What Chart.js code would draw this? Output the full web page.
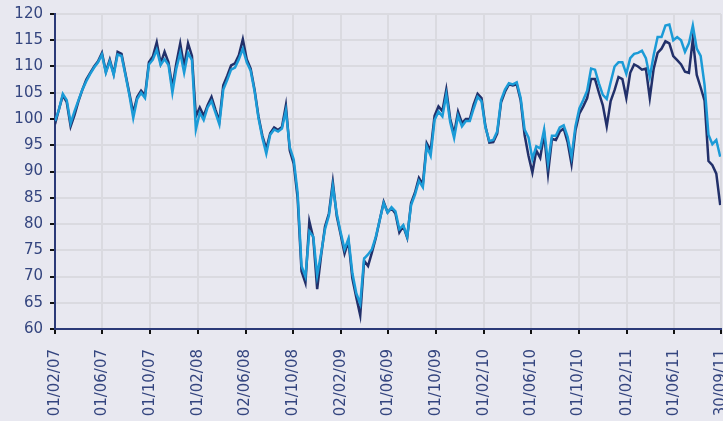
<!DOCTYPE html>
<html>
<head>
<meta charset="utf-8">
<script src="https://cdn.jsdelivr.net/npm/chart.js@4.4.0/dist/chart.umd.min.js"></script>
<style>
  html, body { margin: 0; padding: 0; background: #e8e8f0; overflow: hidden; }
  #wrap { width: 723px; height: 421px; }
</style>
</head>
<body>
<div id="wrap"><canvas id="indexChart"></canvas></div>
<script>
// one reading every 10 calendar days, starting 01/02/07
const stepDays = 10;

const navySeries = [
  99.0, 101.8, 104.5, 103.2, 98.6, 100.8, 103.4, 105.6, 107.5, 108.8,
  110.0, 111.0, 112.6, 109.0, 111.3, 108.6, 112.8, 112.4, 108.6, 104.9,
  101.2, 104.2, 105.4, 104.5, 110.8, 111.9, 114.6, 110.6, 112.8, 110.8,
  106.0, 110.6, 114.4, 110.0, 114.4, 112.0, 100.5, 102.2, 100.6, 102.6,
  104.2, 101.8, 99.6, 106.4, 108.2, 110.2, 110.6, 112.2, 115.2, 111.4,
  109.6, 105.6, 100.5, 96.8, 94.3, 97.3, 98.4, 97.9, 98.5, 102.6,
  94.0, 91.5, 85.0, 71.0, 68.8, 80.5, 77.4, 67.6, 74.0, 79.5,
  82.0, 88.0, 81.5, 78.0, 74.4, 76.8, 69.6, 66.0, 62.6, 73.0,
  72.0, 74.6, 77.4, 80.8, 84.2, 82.2, 83.0, 82.0, 78.4, 79.6,
  77.4, 84.0, 86.0, 88.8, 87.6, 95.4, 94.0, 100.6, 102.4, 101.5,
  105.6, 100.0, 97.2, 101.4, 99.2, 100.0, 100.0, 102.8, 104.8, 104.0,
  98.6, 95.5, 95.6, 97.2, 103.2, 105.2, 106.6, 106.4, 106.6, 103.6,
  97.0, 93.0, 89.8, 94.0, 92.6, 97.2, 89.6, 96.2, 96.0, 97.6,
  98.2, 95.6, 91.4, 97.8, 101.0, 102.4, 104.0, 107.6, 107.6, 105.0,
  102.6, 98.6, 103.4, 105.5, 108.0, 107.6, 104.0, 108.8, 110.4, 110.0,
  109.4, 109.6, 104.0, 109.6, 112.6, 113.4, 114.8, 114.4, 112.0, 111.2,
  110.4, 109.0, 108.8, 115.2, 108.4, 106.0, 103.5, 92.0, 91.2, 89.6,
  83.6
];

const cyanSeries = [
  99.6, 101.8, 104.8, 103.6, 99.2, 101.5, 103.6, 105.6, 107.2, 108.6,
  109.8, 110.8, 112.3, 108.8, 111.0, 108.4, 112.3, 112.0, 108.4, 104.6,
  100.2, 103.8, 105.0, 104.0, 110.4, 111.3, 113.2, 110.3, 111.4, 110.3,
  105.0, 109.6, 112.6, 108.8, 112.6, 111.2, 98.0, 101.2, 99.8, 102.2,
  103.4, 101.2, 99.0, 105.6, 107.4, 109.4, 109.8, 111.4, 113.4, 110.8,
  109.2, 105.3, 100.2, 96.4, 93.4, 97.0, 98.0, 97.6, 98.2, 101.6,
  94.6, 92.3, 86.0, 72.0, 70.0, 78.6, 77.6, 70.2, 74.4, 79.0,
  81.6, 87.2, 82.0, 78.4, 75.2, 77.2, 70.6, 66.8, 64.8, 73.4,
  74.2, 75.2, 77.6, 80.8, 84.0, 82.2, 83.2, 82.4, 79.0, 79.8,
  77.6, 83.6, 85.6, 88.2, 87.0, 94.8, 93.0, 99.8, 101.4, 100.5,
  104.6, 99.4, 96.4, 100.6, 98.6, 99.6, 99.6, 102.0, 104.2, 103.4,
  98.4, 95.8, 96.0, 97.6, 103.6, 105.6, 106.8, 106.6, 107.0, 104.0,
  98.0, 96.5, 92.4, 94.8, 94.4, 98.0, 91.6, 96.8, 96.8, 98.4,
  98.8, 96.6, 92.8, 98.6, 102.0, 103.6, 105.4, 109.6, 109.4, 106.8,
  104.6, 103.8, 107.0, 110.0, 110.8, 110.8, 108.6, 111.6, 112.4, 112.6,
  113.0, 111.6, 108.0, 112.2, 115.6, 115.6, 117.8, 118.0, 115.0, 115.6,
  115.0, 112.8, 114.4, 117.8, 113.4, 112.0, 106.5, 97.0, 95.2, 96.0,
  92.8
];

// x axis: day offsets of the labelled dates
const tickDays = [0, 120, 242, 365, 487, 608, 732, 851, 973, 1096, 1216, 1338, 1461, 1581, 1702];
const tickLabels = ['01/02/07', '01/06/07', '01/10/07', '01/02/08', '02/06/08', '01/10/08', '02/02/09',
  '01/06/09', '01/10/09', '01/02/10', '01/06/10', '01/10/10', '01/02/11', '01/06/11', '30/09/11'];

const yMin = 60;
const yMax = 120;
const yStep = 5;

function toPoints(values) {
  return values.map((v, i) => ({ x: i * stepDays, y: v }));
}

const labelFont = { family: 'DejaVu Sans', size: 15 };
const labelColor = '#34457f';

const ctx = document.getElementById('indexChart').getContext('2d');
const chart = new Chart(ctx, {
  type: 'line',
  data: {
    datasets: [{
      label: 'cyan',
      data: toPoints(cyanSeries),
      borderColor: '#1b9bd7',
      borderWidth: 2.5,
      pointRadius: 0,
      fill: false
    }, {
      label: 'navy',
      data: toPoints(navySeries),
      borderColor: '#22306a',
      borderWidth: 2.5,
      pointRadius: 0,
      fill: false
    }]
  },
  options: {
    responsive: true,
    maintainAspectRatio: false,
    animation: false,
    layout: { padding: { top: 14, right: 2, left: 0, bottom: 0 } },
    plugins: { legend: { display: false }, tooltip: { enabled: false } },
    scales: {
      x: {
        type: 'linear',
        min: tickDays[0],
        max: tickDays[tickDays.length - 1],
        afterBuildTicks: s => { s.ticks = tickDays.map(v => ({ value: v })); },
        afterFit: s => { s.paddingLeft = 0; s.paddingRight = 0; s.height = 92; },
        ticks: {
          autoSkip: false,
          minRotation: 90,
          maxRotation: 90,
          padding: 15,
          color: labelColor,
          font: labelFont,
          callback: (v, i) => tickLabels[i]
        },
        grid: { color: '#dadae0', lineWidth: 2, tickColor: '#111111', tickLength: 5, tickWidth: 2 },
        border: { color: '#2b3a78', width: 2 }
      },
      y: {
        min: yMin,
        max: yMax,
        afterFit: s => { s.width = 55; s.paddingTop = 0; s.paddingBottom = 0; },
        ticks: { stepSize: yStep, padding: 7, color: labelColor, font: labelFont },
        grid: { color: '#dadae0', lineWidth: 2, tickColor: '#111111', tickLength: 5, tickWidth: 2 },
        border: { color: '#2b3a78', width: 2 }
      }
    }
  }
});
</script>
</body>
</html>
